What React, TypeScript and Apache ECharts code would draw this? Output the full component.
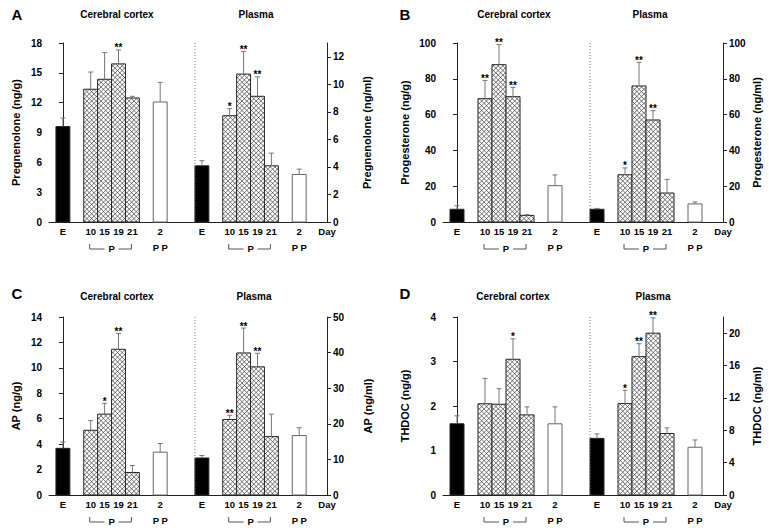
import React, { useEffect, useRef } from 'react';
import * as echarts from 'echarts';

// ---- categories / tick labels ----
const GROUP_LABELS = ['E', '10', '15', '19', '21', '2'];
const CORTEX_X = [0, 2, 3, 4, 5, 7];
const PLASMA_X = [10, 12, 13, 14, 15, 17];
const DAY_X = 19;
const DAY_LABEL = 'Day';
const BRACKET_LABEL = 'P';
const PP_LABEL = 'P P';

const PANEL_LETTERS = ['A', 'B', 'C', 'D'];
const REGION_TITLES = ['Cerebral cortex', 'Plasma'];
const LEFT_NAMES = ['Pregnenolone (ng/g)', 'Progesterone (ng/g)', 'AP (ng/g)', 'THDOC (ng/g)'];
const RIGHT_NAMES = ['Pregnenolone (ng/ml)', 'Progesterone (ng/ml)', 'AP (ng/ml)', 'THDOC (ng/ml)'];

// axis scales
const LEFT_MAX = [18, 100, 14, 4];
const LEFT_INTERVAL = [3, 20, 2, 1];
const RIGHT_MAX = [13, 100, 50, 22];
const RIGHT_TICKS_A = [0, 2, 4, 6, 8, 10, 12];
const RIGHT_TICKS_B = [0, 20, 40, 60, 80, 100];
const RIGHT_TICKS_C = [0, 10, 20, 30, 40, 50];
const RIGHT_TICKS_D = [0, 4, 8, 12, 16, 20];

// ---- Panel A: pregnenolone ----
const pregCortex = [9.6, 13.35, 14.35, 15.9, 12.47, 12.07];
const pregCortexErr = [0.86, 1.73, 2.68, 1.4, 0.17, 1.97];
const pregCortexSig = ['', '', '', '**', '', ''];
const pregPlasma = [4.08, 7.72, 10.74, 9.13, 4.08, 3.45];
const pregPlasmaErr = [0.37, 0.51, 1.65, 1.41, 0.92, 0.39];
const pregPlasmaSig = ['', '*', '**', '**', '', ''];

// ---- Panel B: progesterone ----
const progCortex = [7.1, 68.9, 87.9, 70.0, 3.7, 20.3];
const progCortexErr = [2.0, 10.2, 11.2, 5.2, 0.4, 6.0];
const progCortexSig = ['', '**', '**', '**', '', ''];
const progPlasma = [7.1, 26.4, 76.0, 57.0, 16.2, 10.1];
const progPlasmaErr = [0.5, 3.8, 13.2, 5.2, 7.6, 1.1];
const progPlasmaSig = ['', '*', '**', '**', '', ''];

// ---- Panel C: AP ----
const apCortex = [3.67, 5.09, 6.36, 11.46, 1.77, 3.37];
const apCortexErr = [0.5, 0.76, 0.85, 1.23, 0.55, 0.68];
const apCortexSig = ['', '', '*', '**', '', ''];
const apPlasma = [10.4, 21.2, 39.9, 36.0, 16.4, 16.7];
const apPlasmaErr = [0.7, 1.2, 7.0, 3.8, 6.3, 2.2];
const apPlasmaSig = ['', '**', '**', '**', '', ''];

// ---- Panel D: THDOC ----
const thdocCortex = [1.6, 2.05, 2.04, 3.05, 1.8, 1.6];
const thdocCortexErr = [0.18, 0.57, 0.35, 0.46, 0.18, 0.38];
const thdocCortexSig = ['', '', '', '*', '', ''];
const thdocPlasma = [7.0, 11.3, 17.1, 20.0, 7.6, 5.9];
const thdocPlasmaErr = [0.55, 1.65, 1.6, 1.9, 0.7, 0.9];
const thdocPlasmaSig = ['', '*', '**', '**', '', ''];

const PANELS = [
  { cortex: pregCortex, cortexErr: pregCortexErr, cortexSig: pregCortexSig, plasma: pregPlasma, plasmaErr: pregPlasmaErr, plasmaSig: pregPlasmaSig, rightTicks: RIGHT_TICKS_A },
  { cortex: progCortex, cortexErr: progCortexErr, cortexSig: progCortexSig, plasma: progPlasma, plasmaErr: progPlasmaErr, plasmaSig: progPlasmaSig, rightTicks: RIGHT_TICKS_B },
  { cortex: apCortex, cortexErr: apCortexErr, cortexSig: apCortexSig, plasma: apPlasma, plasmaErr: apPlasmaErr, plasmaSig: apPlasmaSig, rightTicks: RIGHT_TICKS_C },
  { cortex: thdocCortex, cortexErr: thdocCortexErr, cortexSig: thdocCortexSig, plasma: thdocPlasma, plasmaErr: thdocPlasmaErr, plasmaSig: thdocPlasmaSig, rightTicks: RIGHT_TICKS_D },
];

// ---- layout (styles / positions) ----
const FONT = '"Liberation Sans", Arial, Helvetica, sans-serif';
const GRIDS = [
  { left: 49, top: 43, width: 278, height: 179 },
  { left: 443, top: 43, width: 280, height: 179 },
  { left: 49, top: 317, width: 278, height: 178 },
  { left: 443, top: 317, width: 280, height: 178 },
];
const LEFT_GAP = [28, 33, 28, 33];
const RIGHT_GAP = [34, 28, 35, 28];
const TITLE_POS = [
  { letter: [17, 14], cortex: [117, 14], plasma: [256, 14] },
  { letter: [405, 14], cortex: [514, 14], plasma: [650, 14] },
  { letter: [17, 293], cortex: [117, 296], plasma: [254, 296] },
  { letter: [405, 293], cortex: [513, 296], plasma: [653, 296] },
];

function hatchPath(x0: number, y0: number, x1: number, y1: number, s: number) {
  let d = '';
  const cMin = Math.ceil((y0 - x1) / s);
  const cMax = Math.floor((y1 - x0) / s);
  for (let k = cMin; k <= cMax; k++) {
    const c = k * s;
    const a = Math.max(x0, y0 - c);
    const b = Math.min(x1, y1 - c);
    if (b > a) d += `M${a.toFixed(2)} ${(a + c).toFixed(2)}L${b.toFixed(2)} ${(b + c).toFixed(2)}`;
  }
  const eMin = Math.ceil((x0 + y0) / s);
  const eMax = Math.floor((x1 + y1) / s);
  for (let k = eMin; k <= eMax; k++) {
    const c = k * s;
    const a = Math.max(x0, c - y1);
    const b = Math.min(x1, c - y0);
    if (b > a) d += `M${a.toFixed(2)} ${(c - a).toFixed(2)}L${b.toFixed(2)} ${(c - b).toFixed(2)}`;
  }
  return d;
}

function txt(text: string, size: number, x: number, y: number) {
  return {
    type: 'text', x, y,
    style: {
      text, font: `bold ${size}px ${FONT}`, fill: '#000', stroke: 'none', lineWidth: 0,
      align: 'center', verticalAlign: 'middle',
    },
  };
}

function makeRender(sig: string[], xs: number[], withSeparator: boolean) {
  return (params: any, api: any) => {
    const i = params.dataIndex;
    const x = api.value(0);
    const v = api.value(1);
    const e = api.value(2);
    const base = api.coord([x, 0]);
    const top = api.coord([x, v]);
    const errTop = api.coord([x, v + e]);
    const w = api.size([1, 0])[0];
    const cx = base[0];
    const x0 = cx - w / 2;
    const x1 = cx + w / 2;
    const y0 = top[1];
    const y1 = base[1];
    const kind = i === 0 ? 'solid' : i === xs.length - 1 ? 'open' : 'hatch';
    const children: any[] = [];
    children.push({
      type: 'rect',
      shape: { x: x0, y: y0, width: w, height: y1 - y0 },
      style: { fill: kind === 'solid' ? '#000' : '#fff', stroke: kind === 'open' ? '#666' : '#222', lineWidth: 1 },
    });
    if (kind === 'hatch') {
      children.push({
        type: 'path',
        shape: { pathData: hatchPath(x0, y0, x1, y1, 4.7) },
        style: { fill: 'none', stroke: '#3a3a3a', lineWidth: 0.7 },
      });
    }
    children.push({
      type: 'line',
      shape: { x1: cx, y1: y0, x2: cx, y2: errTop[1] },
      style: { stroke: '#777', lineWidth: 1 },
    });
    children.push({
      type: 'line',
      shape: { x1: cx - 2.5, y1: errTop[1], x2: cx + 2.5, y2: errTop[1] },
      style: { stroke: '#777', lineWidth: 1 },
    });
    if (sig[i]) children.push(txt(sig[i], 10, cx, errTop[1] - 2));
    const lineY = y1 + 27;
    if (i === 1) {
      const xl = api.coord([xs[1], 0])[0] - 1;
      const xr = api.coord([xs[4], 0])[0] - 1;
      const xm = api.coord([(xs[2] + xs[3]) / 2, 0])[0];
      const st = { stroke: '#555', lineWidth: 1 };
      children.push({ type: 'line', shape: { x1: xl, y1: lineY - 5, x2: xl, y2: lineY }, style: st });
      children.push({ type: 'line', shape: { x1: xl, y1: lineY, x2: xm - 7, y2: lineY }, style: st });
      children.push({ type: 'line', shape: { x1: xm + 7, y1: lineY, x2: xr, y2: lineY }, style: st });
      children.push({ type: 'line', shape: { x1: xr, y1: lineY - 5, x2: xr, y2: lineY }, style: st });
      children.push(txt(BRACKET_LABEL, 9.5, xm, lineY - 1));
    }
    if (i === xs.length - 1) children.push(txt(PP_LABEL, 9.5, cx, lineY - 2));
    if (withSeparator && i === 0) {
      const sx = api.coord([(CORTEX_X[CORTEX_X.length - 1] + PLASMA_X[0] + 2) / 2, 0])[0];
      const cs = params.coordSys;
      children.push({
        type: 'line',
        shape: { x1: sx, y1: cs.y, x2: sx, y2: cs.y + cs.height },
        style: { stroke: '#777', lineWidth: 1, lineDash: [1, 2] },
      });
    }
    return { type: 'group', children };
  };
}

function xLabel(v: number) {
  const ci = CORTEX_X.indexOf(v);
  if (ci >= 0) return GROUP_LABELS[ci];
  const pi = PLASMA_X.indexOf(v);
  if (pi >= 0) return GROUP_LABELS[pi];
  if (v === DAY_X) return DAY_LABEL;
  return '';
}

function buildOption() {
  const grid: any[] = [];
  const xAxis: any[] = [];
  const yAxis: any[] = [];
  const series: any[] = [];
  const graphic: any[] = [];
  const axisColor = '#222';
  PANELS.forEach((p, k) => {
    grid.push({ ...GRIDS[k], containLabel: false, outerBoundsMode: 'none' });
    xAxis.push({
      gridIndex: k, type: 'value', min: -1, max: DAY_X, interval: 1,
      axisLine: { show: true, onZero: false, lineStyle: { color: axisColor, width: 1 } },
      axisTick: { show: false }, splitLine: { show: false },
      axisLabel: { formatter: (v: number) => xLabel(v), fontSize: 9.5, fontWeight: 'bold', color: '#000', margin: 4, fontFamily: FONT },
    });
    yAxis.push({
      gridIndex: k, type: 'value', position: 'left', min: 0, max: LEFT_MAX[k], interval: LEFT_INTERVAL[k],
      axisLine: { show: true, lineStyle: { color: axisColor, width: 1 } },
      axisTick: { show: true, length: 4, lineStyle: { color: axisColor } },
      splitLine: { show: false },
      axisLabel: { fontSize: 10, fontWeight: 'bold', color: '#000', margin: 7, fontFamily: FONT },
      name: LEFT_NAMES[k], nameLocation: 'middle', nameGap: LEFT_GAP[k], nameRotate: 90,
      nameTextStyle: { fontSize: 11, fontWeight: 'bold', color: '#000', fontFamily: FONT },
    });
    yAxis.push({
      gridIndex: k, type: 'value', position: 'right', min: 0, max: RIGHT_MAX[k],
      axisLine: { show: true, lineStyle: { color: axisColor, width: 1 } },
      axisTick: { show: true, length: 4, lineStyle: { color: axisColor }, customValues: p.rightTicks },
      splitLine: { show: false },
      axisLabel: { fontSize: 10, fontWeight: 'bold', color: '#000', margin: 6, fontFamily: FONT, customValues: p.rightTicks },
      name: RIGHT_NAMES[k], nameLocation: 'middle', nameGap: RIGHT_GAP[k], nameRotate: 90,
      nameTextStyle: { fontSize: 11, fontWeight: 'bold', color: '#000', fontFamily: FONT },
    });
    series.push({
      type: 'custom', xAxisIndex: k, yAxisIndex: 2 * k, clip: false,
      itemStyle: { color: '#000' },
      data: CORTEX_X.map((x, i) => [x, p.cortex[i], p.cortexErr[i]]),
      renderItem: makeRender(p.cortexSig, CORTEX_X, false),
    });
    series.push({
      type: 'custom', xAxisIndex: k, yAxisIndex: 2 * k + 1, clip: false,
      itemStyle: { color: '#000' },
      data: PLASMA_X.map((x, i) => [x, p.plasma[i], p.plasmaErr[i]]),
      renderItem: makeRender(p.plasmaSig, PLASMA_X, true),
    });
    const tp = TITLE_POS[k];
    graphic.push(txt(PANEL_LETTERS[k], 15, tp.letter[0], tp.letter[1]));
    graphic.push(txt(REGION_TITLES[0], 10, tp.cortex[0], tp.cortex[1]));
    graphic.push(txt(REGION_TITLES[1], 10, tp.plasma[0], tp.plasma[1]));
  });
  return {
    animation: false,
    backgroundColor: '#fff',
    color: ['#000'],
    textStyle: { fontFamily: FONT },
    grid, xAxis, yAxis, series, graphic,
  };
}

export default function App() {
  const ref = useRef<HTMLDivElement>(null);
  useEffect(() => {
    if (!ref.current) return;
    const chart = echarts.init(ref.current, undefined, { renderer: 'svg' });
    chart.setOption(buildOption() as any);
    return () => chart.dispose();
  }, []);
  return (
    <div
      ref={ref}
      style={{ position: 'fixed', left: 0, top: 0, width: 769, height: 530, background: '#fff' }}
    />
  );
}
